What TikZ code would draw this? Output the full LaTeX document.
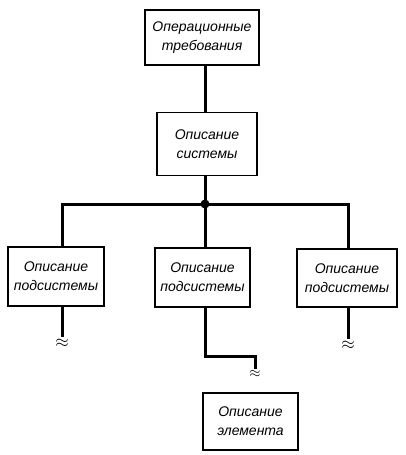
\documentclass[tikz,border=0pt]{standalone}
\usepackage{fontspec}
\setmainfont{Liberation Sans}
\begin{document}
\begin{tikzpicture}[x=1pt,y=-1pt,font=\itshape\fontsize{14}{19}\selectfont,
	blk/.style={draw,line width=1.8pt,align=center,inner sep=0pt},
	lnk/.style={line width=3pt},
	brk/.style={below=-3pt,font=\fontsize{17}{17}\selectfont}]
	\useasboundingbox (0,0) rectangle (405,455);
	\node[blk,minimum width=114pt,minimum height=55pt] (req) at (202,37.5) {Операционные\\требования};
	\node[blk,minimum width=100pt,minimum height=63pt] (sys) at (207,144) {Описание\\системы};
	\node[blk,minimum width=96pt,minimum height=59pt] (subl) at (56,276.5) {Описание\\подсистемы};
	\node[blk,minimum width=95pt,minimum height=59pt] (subm) at (202.5,277.5) {Описание\\подсистемы};
	\node[blk,minimum width=100pt,minimum height=58pt] (subr) at (347,278) {Описание\\подсистемы};
	\node[blk,minimum width=95pt,minimum height=57pt] (elem) at (250.5,421.5) {Описание\\элемента};
	% шина
	\coordinate (bus) at (205,204);
	\draw[lnk] (req.south-|bus)--(sys.north-|bus);
	\draw[lnk] (sys.south-|bus)--(bus);
	\draw[lnk] (subl.north-|62,0)|-(bus)-|(subr.north-|348,0);
	\draw[lnk] (bus)--(subm.north-|bus);
	\fill (bus) circle (4.5pt);
	% разрывы
	\coordinate (brl) at (62,337);
	\coordinate (brr) at (348,339);
	\coordinate (brm) at (255,369);
	\draw[lnk] (subl.south-|brl)--(brl) node[brk]{$\approx$};
	\draw[lnk] (subr.south-|brr)--(brr) node[brk]{$\approx$};
	\draw[lnk] (subm.south-|bus)|-(255,356)--(brm) node[brk,font=\fontsize{14}{14}\selectfont]{$\approx$};
\end{tikzpicture}
\end{document}
